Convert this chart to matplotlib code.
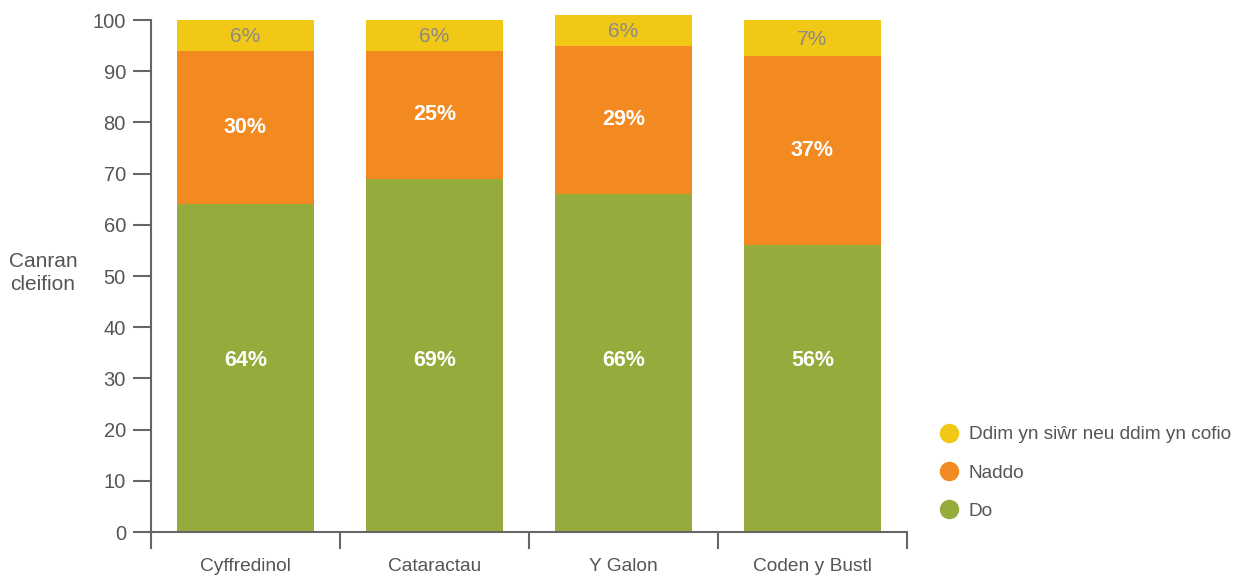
import matplotlib.pyplot as plt
import numpy as np
from matplotlib.lines import Line2D

plt.rcParams['font.family'] = ['Liberation Sans', 'DejaVu Sans']

categories = ["Cyffredinol", "Cataractau", "Y Galon", "Coden y Bustl"]
do_vals = [64, 69, 66, 56]
naddo_vals = [30, 25, 29, 37]
ddim_vals = [6, 6, 6, 7]

series_names = ["Do", "Naddo", "Ddim yn siŵr neu ddim yn cofio"]
colors = ["#95AC3D", "#F28A21", "#F2C816"]
text_grey = "#555555"

fig = plt.figure(figsize=(12.45, 5.77), dpi=100)
ax = fig.add_axes([151 / 1245, 1 - 532 / 577, 756 / 1245, 512 / 577])

x = np.arange(len(categories))
width = 0.72
do_arr = np.array(do_vals)
naddo_arr = np.array(naddo_vals)
ddim_arr = np.array(ddim_vals)

ax.bar(x, do_arr, width, color=colors[0], clip_on=False)
ax.bar(x, naddo_arr, width, bottom=do_arr, color=colors[1], clip_on=False)
ax.bar(x, ddim_arr, width, bottom=do_arr + naddo_arr, color=colors[2], clip_on=False)

for i in range(len(categories)):
    # green labels sit at one common height in the original
    ax.text(x[i], 33.5, f"{do_vals[i]}%", ha="center", va="center",
            color="white", fontsize=15.5, fontweight="bold")
    ax.text(x[i], do_vals[i] + naddo_vals[i] / 2, f"{naddo_vals[i]}%",
            ha="center", va="center", color="white", fontsize=15.5, fontweight="bold")
    top_base = do_vals[i] + naddo_vals[i]
    ax.text(x[i], top_base + ddim_vals[i] / 2 - 0.3, f"{ddim_vals[i]}%",
            ha="center", va="center", color="#8a8a8a", fontsize=15, clip_on=False)

ax.set_xlim(-0.5, len(categories) - 0.5)
ax.set_ylim(0, 100)
ax.set_yticks(np.arange(0, 101, 10))
ax.set_xticks(x)
ax.set_xticklabels(categories)
ax.set_xticks(np.arange(-0.5, len(categories), 1), minor=True)

for s in ["top", "right"]:
    ax.spines[s].set_visible(False)
for s in ["left", "bottom"]:
    ax.spines[s].set_color("#666666")
    ax.spines[s].set_linewidth(1.5)

ax.tick_params(axis="y", length=13, width=1.5, color="#666666",
               labelsize=14.5, labelcolor=text_grey, pad=5)
ax.tick_params(axis="x", which="major", length=0, labelsize=13.8,
               labelcolor=text_grey, pad=19)
ax.tick_params(axis="x", which="minor", length=12, width=1.5, color="#666666")

fig.text(43 / 1245, 1 - 273 / 577, "Canran\ncleifion", ha="center", va="center",
         fontsize=15, color=text_grey, linespacing=1.25)

handles = [Line2D([0], [0], marker="o", linestyle="", markersize=13,
                  markerfacecolor=colors[k], markeredgecolor=colors[k])
           for k in [2, 1, 0]]
labels = [series_names[k] for k in [2, 1, 0]]
fig.legend(handles, labels, loc="center left",
           bbox_to_anchor=(920 / 1245, 1 - 473 / 577), frameon=False,
           fontsize=13.7, labelcolor=text_grey, labelspacing=1.1,
           handletextpad=0.45, handlelength=1.2)

fig.savefig("out.png", dpi=100)
